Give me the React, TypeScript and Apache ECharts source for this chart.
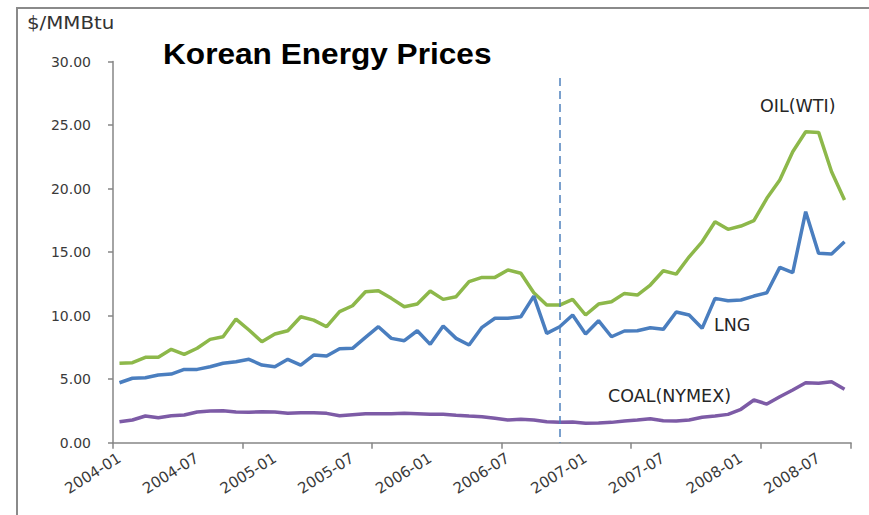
import React, { useEffect, useRef } from "react";
import * as echarts from "echarts";

const months: string[] = [];
for (let y = 2004; y <= 2008; y++) {
  for (let m = 1; m <= 12; m++) {
    if (y === 2008 && m > 9) break;
    months.push(`${y}-${m < 10 ? "0" + m : m}`);
  }
}

const oilWTI = [
  6.25, 6.3, 6.72, 6.72, 7.35, 6.95, 7.43, 8.13, 8.34, 9.73, 8.87, 7.95,
  8.55, 8.81, 9.91, 9.65, 9.13, 10.31, 10.78, 11.88, 11.96, 11.36, 10.7, 10.91,
  11.94, 11.28, 11.49, 12.67, 13.01, 13.01, 13.59, 13.33, 11.8, 10.83, 10.83, 11.28,
  10.05, 10.91, 11.09, 11.75, 11.62, 12.41, 13.53, 13.27, 14.63, 15.81, 17.39, 16.79,
  17.05, 17.47, 19.23, 20.67, 22.9, 24.47, 24.42, 21.32, 19.1,
];

const lng = [
  4.72, 5.07, 5.11, 5.33, 5.4, 5.77, 5.77, 5.98, 6.25, 6.37, 6.56, 6.11,
  5.98, 6.56, 6.11, 6.9, 6.82, 7.4, 7.43, 8.29, 9.13, 8.21, 8.03, 8.81,
  7.74, 9.18, 8.21, 7.69, 9.08, 9.79, 9.79, 9.91, 11.54, 8.6, 9.13, 10.05,
  8.55, 9.6, 8.34, 8.79, 8.81, 9.05, 8.92, 10.28, 10.05, 9.0, 11.36, 11.17,
  11.23, 11.54, 11.8, 13.8, 13.38, 18.18, 14.9, 14.85, 15.81,
];

const coalNymex = [
  1.65, 1.79, 2.1, 1.97, 2.12, 2.18, 2.42, 2.49, 2.52, 2.42, 2.39, 2.44,
  2.42, 2.31, 2.36, 2.36, 2.31, 2.12, 2.2, 2.28, 2.28, 2.28, 2.31, 2.28,
  2.23, 2.23, 2.16, 2.1, 2.05, 1.92, 1.79, 1.84, 1.79, 1.65, 1.6, 1.62,
  1.53, 1.55, 1.6, 1.71, 1.79, 1.89, 1.73, 1.71, 1.79, 2.0, 2.1, 2.23,
  2.63, 3.36, 3.04, 3.62, 4.15, 4.72, 4.67, 4.8, 4.2,
];

const markerMonth = "2006-11";
const markerTop = 28.7;

const yTicks = { min: 0, max: 30, interval: 5 };

export default function App() {
  const ref = useRef<HTMLDivElement>(null);

  useEffect(() => {
    if (!ref.current) return;
    const chart = echarts.init(ref.current, null, { renderer: "svg" });
    const axisColor = "#868686";
    const labelColor = "#3a3a3a";
    const annFont = "DejaVu Sans";

    chart.setOption({
      animation: false,
      backgroundColor: "#ffffff",
      grid: { left: 113, right: 18, top: 61.5, bottom: 72.3, containLabel: false },
      xAxis: {
        type: "category",
        data: months,
        boundaryGap: true,
        axisLine: { show: true, lineStyle: { color: axisColor, width: 1.5 } },
        axisTick: { show: true, interval: 9, length: 6, lineStyle: { color: axisColor, width: 1.5 } },
        axisLabel: {
          interval: 5,
          rotate: 32,
          margin: 14,
          color: labelColor,
          fontFamily: "DejaVu Sans",
          fontSize: 15,
        },
        splitLine: { show: false },
      },
      yAxis: {
        type: "value",
        min: yTicks.min,
        max: yTicks.max,
        interval: yTicks.interval,
        axisLine: { show: true, lineStyle: { color: axisColor, width: 1.5 } },
        axisTick: { show: true, length: 5, lineStyle: { color: axisColor, width: 1.5 } },
        axisLabel: {
          margin: 22,
          color: labelColor,
          fontFamily: "DejaVu Sans",
          fontSize: 14,
          formatter: (v: number) => v.toFixed(2),
        },
        splitLine: { show: false },
      },
      series: [
        {
          name: "OIL(WTI)",
          type: "line",
          data: oilWTI,
          showSymbol: false,
          lineStyle: { color: "#8DB84A", width: 3.5 },
          itemStyle: { color: "#8DB84A" },
          z: 3,
        },
        {
          name: "LNG",
          type: "line",
          data: lng,
          showSymbol: false,
          lineStyle: { color: "#4A7EBF", width: 3.5 },
          itemStyle: { color: "#4A7EBF" },
          z: 4,
          markLine: {
            silent: true,
            symbol: "none",
            label: { show: false },
            lineStyle: { color: "#4F81BD", width: 1.5, type: [8, 5] },
            data: [[{ xAxis: markerMonth, yAxis: markerTop }, { xAxis: markerMonth, yAxis: 0 }]],
          },
        },
        {
          name: "COAL(NYMEX)",
          type: "line",
          data: coalNymex,
          showSymbol: false,
          lineStyle: { color: "#7D5BA6", width: 3.5 },
          itemStyle: { color: "#7D5BA6" },
          z: 2,
        },
      ],
      graphic: [
        {
          type: "polyline",
          shape: { points: [[17, 515], [17, 8], [869, 8]] },
          style: { stroke: "#8a8a8a", lineWidth: 2, fill: "none" },
          silent: true,
        },
        {
          type: "text",
          x: 27,
          y: 22,
          scaleX: 1.1,
          style: { text: "$/MMBtu", font: `18px "${annFont}"`, fill: "#333333", textVerticalAlign: "middle" },
        },
        {
          type: "text",
          x: 163,
          y: 54,
          scaleX: 1.09,
          style: { text: "Korean Energy Prices", font: `bold 29px "Liberation Sans"`, fill: "#000000", textVerticalAlign: "middle" },
        },
        {
          type: "text",
          x: 760,
          y: 106,
          style: { text: "OIL(WTI)", font: `17.5px "${annFont}"`, fill: "#262626", textVerticalAlign: "middle" },
        },
        {
          type: "text",
          x: 714,
          y: 325,
          style: { text: "LNG", font: `17.5px "${annFont}"`, fill: "#262626", textVerticalAlign: "middle" },
        },
        {
          type: "text",
          x: 608,
          y: 396,
          style: { text: "COAL(NYMEX)", font: `17.5px "${annFont}"`, fill: "#262626", textVerticalAlign: "middle" },
        },
      ],
    });

    return () => chart.dispose();
  }, []);

  return (
    <div
      ref={ref}
      style={{ position: "fixed", left: 0, top: 0, width: 869, height: 515, background: "#fff" }}
    />
  );
}
